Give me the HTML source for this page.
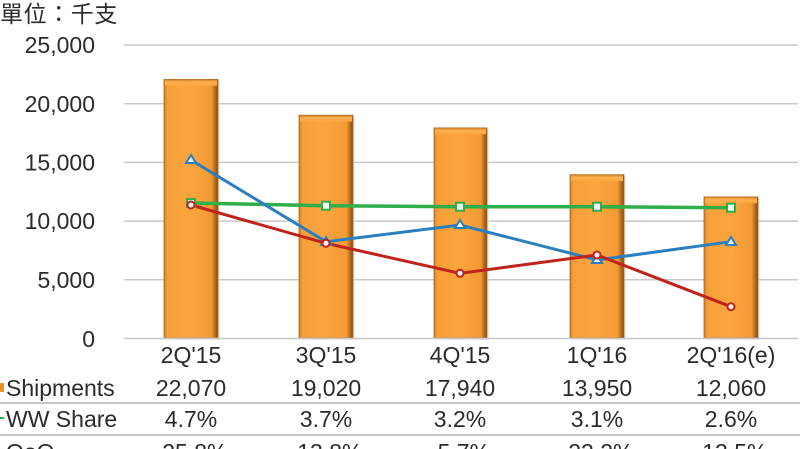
<!DOCTYPE html>
<html>
<head>
<meta charset="utf-8">
<style>
  html,body{margin:0;padding:0;background:#fff;}
  svg{display:block;}
  text{font-family:"Liberation Sans","Noto Sans CJK TC",sans-serif;fill:#2b2b2b;font-size:23px;}
</style>
</head>
<body>
<svg width="800" height="449" viewBox="0 0 800 449" xmlns="http://www.w3.org/2000/svg">
  <defs>
    <linearGradient id="bar" x1="0" y1="0" x2="1" y2="0">
      <stop offset="0" stop-color="#c97a26"/>
      <stop offset="0.06" stop-color="#f7a03a"/>
      <stop offset="0.5" stop-color="#fba53d"/>
      <stop offset="0.88" stop-color="#f39a33"/>
      <stop offset="0.94" stop-color="#b87020"/>
      <stop offset="1" stop-color="#7e4c16"/>
    </linearGradient>
    <linearGradient id="bartop" x1="0" y1="0" x2="0" y2="1">
      <stop offset="0" stop-color="#d98429"/>
      <stop offset="0.4" stop-color="#fdb250"/>
      <stop offset="1" stop-color="#fba53d"/>
    </linearGradient>
  </defs>

  <!-- title -->
  <text x="0" y="22" font-size="23" letter-spacing="0.6" style="font-family:'Noto Sans CJK TC','Liberation Sans',sans-serif;">單位：千支</text>

  <!-- gridlines -->
  <g stroke="#c8c8c8" stroke-width="1.5">
    <line x1="124" y1="45" x2="798" y2="45"/>
    <line x1="124" y1="103.7" x2="798" y2="103.7"/>
    <line x1="124" y1="162.4" x2="798" y2="162.4"/>
    <line x1="124" y1="221.1" x2="798" y2="221.1"/>
    <line x1="124" y1="279.8" x2="798" y2="279.8"/>
  </g>

  <!-- y labels -->
  <g text-anchor="end">
    <text x="95" y="53">25,000</text>
    <text x="95" y="112">20,000</text>
    <text x="95" y="170.5">15,000</text>
    <text x="95" y="229">10,000</text>
    <text x="95" y="288">5,000</text>
    <text x="95" y="347">0</text>
  </g>

  <!-- bars -->
  <g stroke="#b06a1e" stroke-width="0.8">
    <rect x="166" y="82" width="54" height="258" fill="#e6e0d8" opacity="0.6" stroke="none"/>
    <rect x="164" y="79.4" width="54" height="258.6" fill="url(#bar)"/>
    <rect x="165" y="79.8" width="52" height="6" fill="url(#bartop)" stroke="none"/>

    <rect x="301" y="118" width="54" height="222" fill="#e6e0d8" opacity="0.6" stroke="none"/>
    <rect x="299" y="115.2" width="54" height="222.8" fill="url(#bar)"/>
    <rect x="300" y="115.6" width="52" height="6" fill="url(#bartop)" stroke="none"/>

    <rect x="436" y="130" width="53" height="210" fill="#e6e0d8" opacity="0.6" stroke="none"/>
    <rect x="434" y="127.9" width="53" height="210.1" fill="url(#bar)"/>
    <rect x="435" y="128.3" width="51" height="6" fill="url(#bartop)" stroke="none"/>

    <rect x="572" y="177" width="54" height="163" fill="#e6e0d8" opacity="0.6" stroke="none"/>
    <rect x="570" y="174.7" width="54" height="163.3" fill="url(#bar)"/>
    <rect x="571" y="175.1" width="52" height="6" fill="url(#bartop)" stroke="none"/>

    <rect x="706" y="199" width="54" height="141" fill="#e6e0d8" opacity="0.6" stroke="none"/>
    <rect x="704" y="196.9" width="54" height="141.1" fill="url(#bar)"/>
    <rect x="705" y="197.3" width="52" height="6" fill="url(#bartop)" stroke="none"/>
  </g>

  <!-- baseline -->
  <line x1="124" y1="338.5" x2="798" y2="338.5" stroke="#c8c8c8" stroke-width="1.5"/>

  <!-- lines -->
  <polyline points="191,203 326,205.7 460,206.7 597,206.7 731,207.7" fill="none" stroke="#2fae4a" stroke-width="3.5"/>
  <polyline points="191,160 326,241.7 460,225 597,260 731,241.7" fill="none" stroke="#2a7fc0" stroke-width="3"/>
  <polyline points="191,205 326,243.3 460,273.3 597,255 731,306.7" fill="none" stroke="#c0221c" stroke-width="3"/>

  <!-- markers green squares -->
  <g fill="#f4fbf2" stroke="#2fae4a" stroke-width="2">
    <rect x="187" y="199" width="8" height="8"/>
    <rect x="322" y="201.7" width="8" height="8"/>
    <rect x="456" y="202.7" width="8" height="8"/>
    <rect x="593" y="202.7" width="8" height="8"/>
    <rect x="727" y="203.7" width="8" height="8"/>
  </g>
  <!-- blue triangles -->
  <g fill="#eef5fb" stroke="#2a7fc0" stroke-width="2">
    <polygon points="191,155 196,163 186,163"/>
    <polygon points="326,237 331,245 321,245"/>
    <polygon points="460,220 465,228 455,228"/>
    <polygon points="597,255 602,263 592,263"/>
    <polygon points="731,237 736,245 726,245"/>
  </g>
  <!-- red circles -->
  <g fill="#fdf2f0" stroke="#c0221c" stroke-width="2">
    <circle cx="191" cy="205" r="3.5"/>
    <circle cx="326" cy="243.3" r="3.5"/>
    <circle cx="460" cy="273.3" r="3.5"/>
    <circle cx="597" cy="255" r="3.5"/>
    <circle cx="731" cy="306.7" r="3.5"/>
  </g>

  <!-- category labels -->
  <g text-anchor="middle">
    <text x="191" y="363">2Q'15</text>
    <text x="326" y="363">3Q'15</text>
    <text x="460" y="363">4Q'15</text>
    <text x="597" y="363">1Q'16</text>
    <text x="731" y="363">2Q'16(e)</text>
  </g>

  <!-- table -->
  <rect x="0" y="383" width="4" height="9" fill="#e8922e"/>
  <text x="6" y="396">Shipments</text>
  <g text-anchor="middle">
    <text x="191" y="396">22,070</text>
    <text x="326" y="396">19,020</text>
    <text x="460" y="396">17,940</text>
    <text x="597" y="396">13,950</text>
    <text x="731" y="396">12,060</text>
  </g>
  <line x1="0" y1="403" x2="800" y2="403" stroke="#b4b4b4" stroke-width="1.5"/>

  <line x1="0" y1="418" x2="4" y2="418" stroke="#2fae4a" stroke-width="2"/>
  <text x="6" y="427">WW Share</text>
  <g text-anchor="middle">
    <text x="191" y="427">4.7%</text>
    <text x="326" y="427">3.7%</text>
    <text x="460" y="427">3.2%</text>
    <text x="597" y="427">3.1%</text>
    <text x="731" y="427">2.6%</text>
  </g>
  <line x1="0" y1="435" x2="800" y2="435" stroke="#b4b4b4" stroke-width="1.5"/>

  <line x1="0" y1="450" x2="4" y2="450" stroke="#c0221c" stroke-width="2"/>
  <text x="6" y="460">QoQ</text>
  <g text-anchor="middle">
    <text x="191" y="460">-25.8%</text>
    <text x="326" y="460">-13.8%</text>
    <text x="460" y="460">-5.7%</text>
    <text x="597" y="460">-22.2%</text>
    <text x="731" y="460">-13.5%</text>
  </g>
</svg>
</body>
</html>
